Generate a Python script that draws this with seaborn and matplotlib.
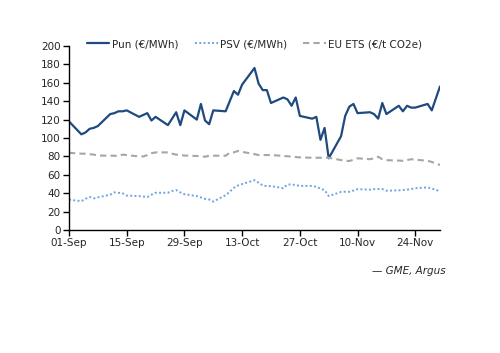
import numpy as np
import pandas as pd
import matplotlib
matplotlib.use("Agg")
import matplotlib.pyplot as plt
import matplotlib.dates as mdates
import seaborn as sns

# Trading days, Sep - Nov 2023
dates = pd.bdate_range("2023-09-01", "2023-11-30")

# Pun (EUR/MWh)
pun = [118,
       104, 106, 110, 111, 113,
       126, 127, 129, 129, 130,
       123, 125, 127, 119, 123,
       114, 121, 128, 114, 130,
       120, 137, 119, 115, 130,
       129, 140, 151, 147, 158,
       176, 159, 152, 152, 138,
       144, 142, 135, 144, 124,
       121, 123, 98, 111, 78,
       102, 124, 134, 137, 127,
       128, 126, 121, 138, 126,
       135, 129, 135, 133, 133,
       137, 130, 143, 156]

# PSV (EUR/MWh)
psv = [33,
       31.5, 34, 36, 34.5, 35.5,
       38.5, 41, 40.5, 40, 37.5,
       37, 36.5, 36, 38.5, 40.6,
       40.6, 42.5, 43.5, 41, 39,
       37, 35.5, 34, 33.3, 31,
       38, 41.7, 46, 48.5, 50,
       54.3, 51.4, 48.5, 47.8, 47.8,
       45.5, 49.6, 49.6, 49, 48,
       48, 47, 45, 43.5, 37,
       41.5, 41.7, 41.7, 43, 44.5,
       44, 44.5, 44.6, 44.6, 42.8,
       43.2, 43.6, 44, 44.6, 45.5,
       46.5, 45, 44, 41.7]

# EU ETS (EUR/t CO2e)
ets = [84,
       83, 83, 82.5, 82, 81,
       80.8, 80.8, 80.5, 82, 81.5,
       80, 80, 81.5, 83.5, 84.4,
       84.4, 83, 82, 81.5, 81,
       80.5, 80, 79.7, 80.8, 80.8,
       80.8, 84, 84.5, 85.9, 85,
       82.5, 81.5, 81.5, 81.5, 81.5,
       80.6, 80.2, 79.8, 79.3, 79,
       78.6, 78.6, 78.6, 78.6, 78.6,
       76, 75.5, 75, 76.5, 78,
       77, 78, 79.7, 77, 76,
       75.5, 75.3, 76, 77, 76.5,
       75.3, 74, 72.5, 70.7]

df = pd.DataFrame({"date": dates, "pun": pun, "psv": psv, "ets": ets})

sns.set_style("white")
plt.rcParams["font.family"] = ["DejaVu Sans"]

fig = plt.figure(figsize=(5.0, 3.53), dpi=100)
ax = fig.add_axes([0.138, 0.348, 0.742, 0.522])

sns.lineplot(data=df, x="date", y="pun", ax=ax, color="#1f4a7f", lw=1.6,
             label="Pun (€/MWh)")
sns.lineplot(data=df, x="date", y="psv", ax=ax, color="#6fa3e0", lw=1.4,
             linestyle=(0, (1, 1.2)), label="PSV (€/MWh)")
sns.lineplot(data=df, x="date", y="ets", ax=ax, color="#a6a6a6", lw=1.5,
             linestyle=(0, (3, 2)), label="EU ETS (€/t CO2e)")

ax.set_xlim(pd.Timestamp("2023-09-01"), pd.Timestamp("2023-11-30"))
ax.set_ylim(0, 200)
ax.set_yticks(np.arange(0, 201, 20))
ax.xaxis.set_major_locator(mdates.DayLocator(bymonthday=None, interval=14))
ax.set_xticks(pd.date_range("2023-09-01", "2023-11-30", freq="14D"))
ax.xaxis.set_major_formatter(mdates.DateFormatter("%d-%b"))
ax.set_xlabel("")
ax.set_ylabel("")

for s in ["top", "right"]:
    ax.spines[s].set_visible(False)
for s in ["left", "bottom"]:
    ax.spines[s].set_color("black")
    ax.spines[s].set_linewidth(1.0)
ax.tick_params(axis="both", which="major", direction="out", length=4, width=1,
               color="black", labelsize=7.5, pad=2, bottom=True, left=True)

ax.legend(loc="lower center", bbox_to_anchor=(0.5, 0.96), ncol=3, frameon=False,
          fontsize=7.5, handlelength=2.2, handletextpad=0.2, columnspacing=1.6,
          borderaxespad=0)

fig.text(0.892, 0.232, "— GME, Argus", ha="right", va="center", fontsize=7.5,
         style="italic")

fig.savefig("out.png", dpi=100)
